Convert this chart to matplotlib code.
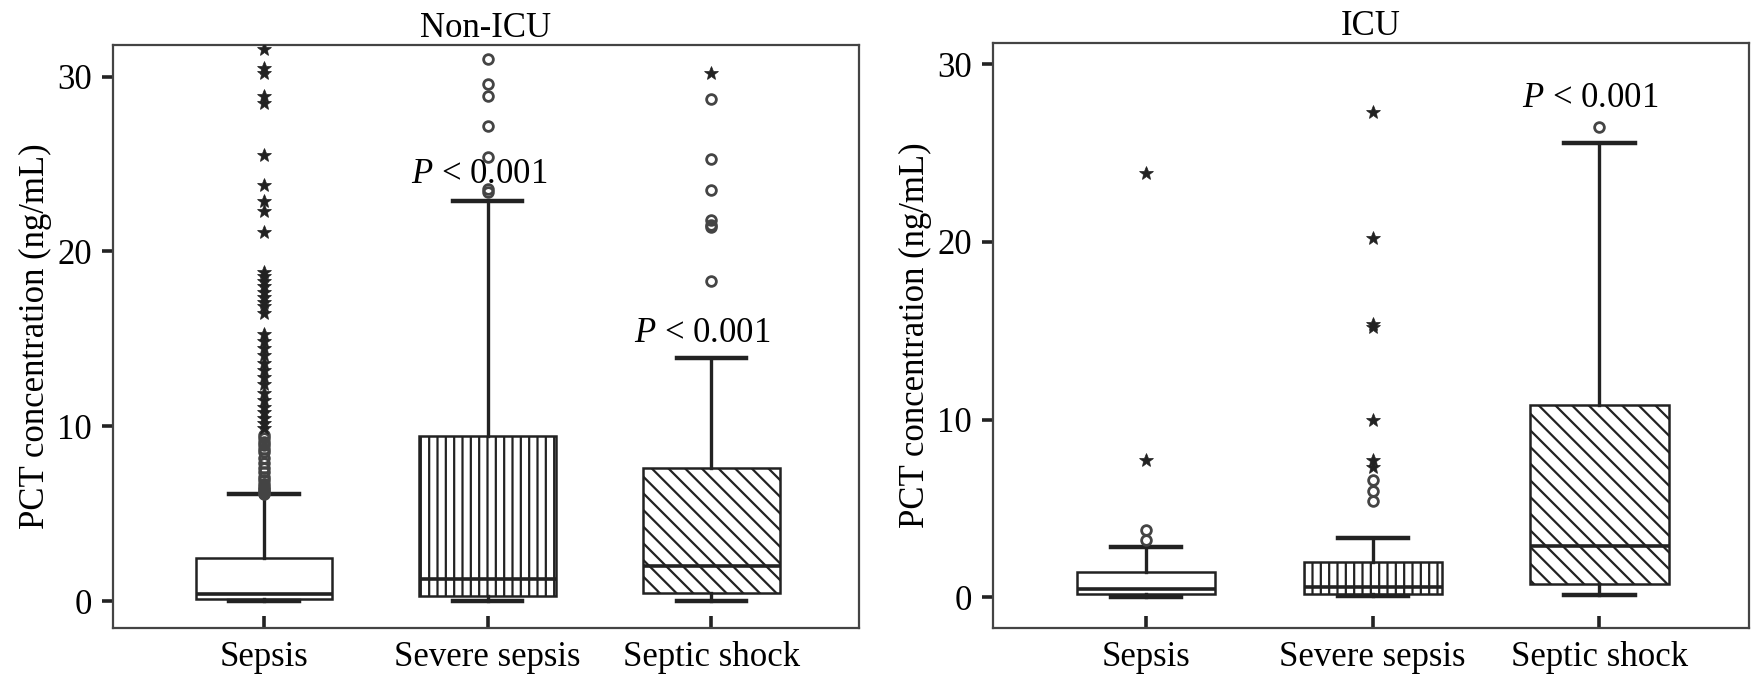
import matplotlib
matplotlib.use("Agg")
import matplotlib.pyplot as plt

plt.rcParams["font.family"] = ["Liberation Serif", "DejaVu Serif"]
plt.rcParams["mathtext.fontset"] = "custom"
plt.rcParams["mathtext.rm"] = "Liberation Serif"
plt.rcParams["mathtext.it"] = "Liberation Serif:italic"
plt.rcParams["hatch.linewidth"] = 1.6
plt.rcParams["font.size"] = 25

groups = ["Sepsis", "Severe sepsis", "Septic shock"]
hatches = ["", "||", "\\\\"]

# box summaries: low whisker, Q1, median, Q3, high whisker
nonicu_whislo = [0.0, 0.0, 0.0]
nonicu_q1 = [0.10, 0.27, 0.45]
nonicu_med = [0.42, 1.25, 2.0]
nonicu_q3 = [2.48, 9.45, 7.6]
nonicu_whishi = [6.1, 22.9, 13.9]

icu_whislo = [0.03, 0.05, 0.1]
icu_q1 = [0.19, 0.15, 0.72]
icu_med = [0.47, 0.55, 2.9]
icu_q3 = [1.44, 2.0, 10.8]
icu_whishi = [2.8, 3.35, 25.6]

# outliers (o = mild, * = extreme)
nonicu_circles = [
    [6.1, 6.2, 6.3, 6.4, 6.5, 6.7, 6.9, 7.1, 7.4, 7.6, 7.9, 8.2, 8.5, 8.7, 8.9, 9.1, 9.3, 9.5],
    [31.0, 29.6, 28.9, 27.2, 25.4, 23.6, 23.4],
    [28.7, 25.3, 23.5, 21.8, 21.5, 21.4, 18.3],
]
nonicu_stars = [
    [31.6, 30.5, 30.2, 28.9, 28.5, 25.5, 23.8, 22.9, 22.3, 21.1, 18.8, 18.6, 18.3, 18.0,
     17.7, 17.4, 17.1, 16.9, 16.5, 15.3, 14.9, 14.5, 14.1, 13.6, 13.2, 12.8, 12.4, 11.9,
     11.5, 11.1, 10.8, 10.5, 10.2, 9.9],
    [],
    [30.2],
]
icu_circles = [
    [3.2, 3.8],
    [5.4, 6.0, 6.6],
    [26.5],
]
icu_stars = [
    [7.7, 23.9],
    [7.3, 7.7, 10.0, 15.2, 15.4, 20.2, 27.3],
    [],
]

nonicu_p = [None, (2, 24.4), (3, 15.3)]
icu_p = [None, None, (3, 28.1)]

panels = [
    ("Non-ICU", nonicu_whislo, nonicu_q1, nonicu_med, nonicu_q3, nonicu_whishi,
     nonicu_circles, nonicu_stars, nonicu_p, (-1.55, 31.8)),
    ("ICU", icu_whislo, icu_q1, icu_med, icu_q3, icu_whishi,
     icu_circles, icu_stars, icu_p, (-1.75, 31.2)),
]

dark = "#222222"
fig = plt.figure(figsize=(17.52, 6.74), dpi=100)
ax_rects = [[0.0645, 0.068, 0.4258, 0.865], [0.5668, 0.068, 0.4315, 0.868]]

for rect, (title, wlo, q1, med, q3, whi, circ, star, pvals, ylim) in zip(ax_rects, panels):
    ax = fig.add_axes(rect)
    stats = []
    for i in range(3):
        stats.append(dict(whislo=wlo[i], q1=q1[i], med=med[i], q3=q3[i], whishi=whi[i], fliers=[]))
    pos = [1, 2, 3]
    bp = ax.bxp(stats, positions=pos, widths=0.61, capwidths=0.31, patch_artist=True,
                showfliers=False,
                boxprops=dict(facecolor="white", edgecolor=dark, linewidth=1.8),
                medianprops=dict(color=dark, linewidth=2.6),
                whiskerprops=dict(color=dark, linewidth=2.4),
                capprops=dict(color=dark, linewidth=3.2))
    for box, h in zip(bp["boxes"], hatches):
        box.set_hatch(h)

    for i in range(3):
        if circ[i]:
            ax.plot([pos[i]] * len(circ[i]), circ[i], linestyle="none", marker="o",
                    markersize=7, markerfacecolor="none", markeredgecolor="#444444",
                    markeredgewidth=2.0, zorder=3)
        if star[i]:
            ax.plot([pos[i]] * len(star[i]), star[i], linestyle="none", marker="*",
                    markersize=10, markerfacecolor=dark, markeredgecolor=dark,
                    markeredgewidth=0.5, zorder=3)
        if pvals[i]:
            px, py = pvals[i]
            ax.text(px - 0.04, py, "$P$ < 0.001", ha="center", va="center")

    ax.set_xlim(0.325, 3.66)
    ax.set_ylim(*ylim)
    ax.set_yticks([0, 10, 20, 30])
    ax.set_xticks(pos)
    ax.set_xticklabels(groups)
    ax.tick_params(axis="y", direction="out", length=8, width=2.6, color=dark, pad=7)
    ax.tick_params(axis="x", direction="in", length=9, width=2.6, color=dark, pad=9)
    for sp in ax.spines.values():
        sp.set_color("#444444")
        sp.set_linewidth(1.6)
    ax.set_ylabel("PCT concentration (ng/mL)", labelpad=4)
    ax.set_title(title, pad=6, fontsize=25)

fig.savefig("out.png", dpi=100)
